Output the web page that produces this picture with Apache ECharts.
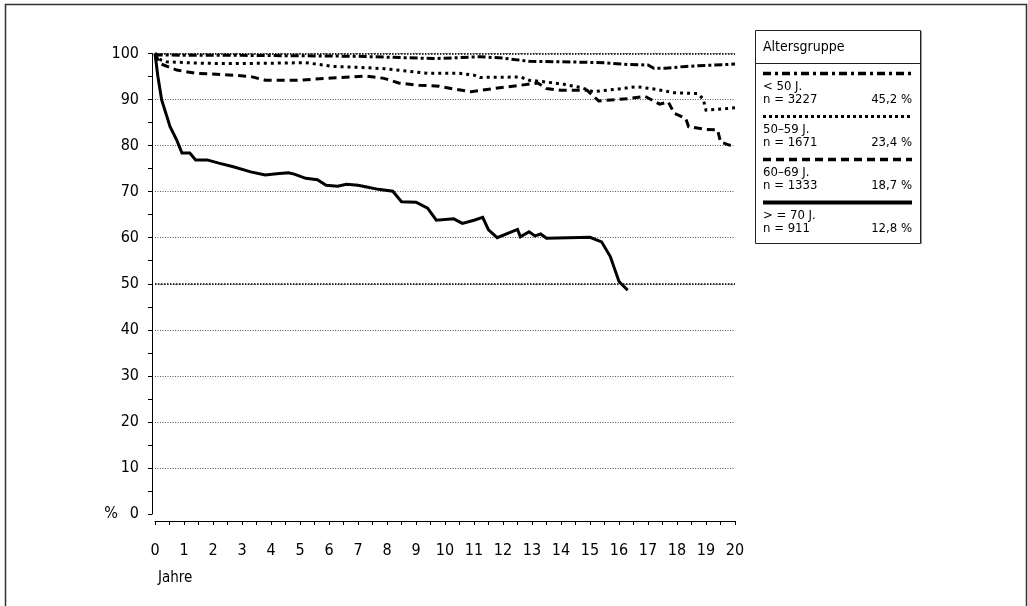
<!DOCTYPE html>
<html>
<head>
<meta charset="utf-8">
<script src="https://cdn.jsdelivr.net/npm/echarts@6/dist/echarts.min.js"></script>
<style>
html,body{margin:0;padding:0;background:#fff;}
#chart{width:1028px;height:606px;}
</style>
</head>
<body>
<div id="chart"></div>
<script>
// ---- data ----
const groupNames = ['< 50 J.', '50–59 J.', '60–69 J.', '> = 70 J.'];
const groupCounts = ['n = 3227', 'n = 1671', 'n = 1333', 'n = 911'];
const groupShares = ['45,2 %', '23,4 %', '18,7 %', '12,8 %'];
const legendTitle = 'Altersgruppe';
const xAxisTitle = 'Jahre';
const yAxisUnit = '%';

const under50 = [[0,100],[0.1,99.7],[1,99.6],[3,99.6],[5,99.5],[7,99.4],[8,99.2],[9.6,98.9],[10.5,99.1],[11.2,99.3],[12,99.0],[12.9,98.3],[14,98.2],[15.5,98.0],[16.3,97.6],[17.0,97.5],[17.2,96.8],[17.6,96.8],[18.3,97.2],[19,97.4],[20,97.7]];
const age50to59 = [[0,100],[0.2,98.6],[0.4,98.2],[1.5,97.9],[2.7,97.8],[4,97.9],[5.2,98.0],[5.8,97.5],[6.1,97.2],[7,97.0],[7.9,96.7],[8.5,96.3],[9.4,95.7],[10.5,95.7],[11.0,95.3],[11.2,94.8],[12.6,94.9],[12.9,94.2],[13.5,93.8],[14.1,93.3],[14.7,92.6],[15.1,91.7],[16.0,92.3],[16.6,92.8],[17.3,92.2],[17.9,91.5],[18.7,91.3],[18.9,90.2],[19.0,87.7],[20,88.2]];
const age60to69 = [[0,100],[0.17,97.8],[0.75,96.4],[1.4,95.7],[2.7,95.3],[3.3,95.0],[3.8,94.2],[5.0,94.2],[6.1,94.7],[7.3,95.1],[7.9,94.6],[8.2,94.0],[8.4,93.6],[9.1,93.1],[9.8,92.9],[10.3,92.3],[10.9,91.7],[11.7,92.4],[12.6,93.1],[13.2,93.6],[13.5,92.4],[14.0,92.0],[14.9,92.0],[15.3,89.7],[16.3,90.2],[16.9,90.7],[17.4,89.0],[17.7,89.5],[17.9,87.0],[18.3,85.9],[18.4,84.1],[19.0,83.5],[19.4,83.4],[19.5,80.8],[19.8,80.1],[20,80.0]];
const age70plus = [[0,100],[0.1,95],[0.23,89.9],[0.52,84.1],[0.75,81.2],[0.93,78.4],[1.2,78.4],[1.4,76.9],[1.8,76.9],[2.2,76.2],[2.7,75.4],[3.3,74.3],[3.8,73.6],[4.2,73.9],[4.6,74.1],[4.8,73.8],[5.2,72.9],[5.6,72.6],[5.9,71.4],[6.3,71.2],[6.6,71.6],[7.0,71.4],[7.3,71.0],[7.7,70.5],[8.2,70.1],[8.5,67.8],[9.0,67.7],[9.4,66.4],[9.7,63.8],[10.3,64.1],[10.6,63.1],[11.0,63.8],[11.3,64.4],[11.5,61.7],[11.8,60.0],[12.5,61.8],[12.6,60.2],[12.9,61.3],[13.1,60.4],[13.3,60.8],[13.5,59.9],[15.0,60.1],[15.4,59.1],[15.7,55.9],[16.0,50.5],[16.3,48.6]];

const seriesData = [under50, age50to59, age60to69, age70plus];
const emphasisLines = [50, 100];

// ---- styles ----
const FONT = "'Liberation Sans Narrow', 'DejaVu Sans Condensed', 'Arial Narrow', sans-serif";
const dashes = [[8,3,3,3], [3,4], [8,5], null];
const widths = [3, 3, 3, 3];
const legendDashes = [[8,4,3,4], [3,3], [8,5], null];
const legendWidths = [3.5, 3, 3.5, 4];

const chart = echarts.init(document.getElementById('chart'), null, {renderer: 'canvas'});

const series = seriesData.map((d, i) => ({
  type: 'line',
  name: groupNames[i],
  data: d,
  showSymbol: false,
  symbol: 'none',
  z: 3 + i,
  lineStyle: {color: '#000', width: widths[i], type: dashes[i] || 'solid', cap: 'butt', join: 'miter'},
  animation: false
}));
series[0].markLine = {
  silent: true, symbol: 'none', animation: false,
  label: {show: false},
  lineStyle: {color: '#000', type: [1.5, 1.5], width: 1.5},
  data: emphasisLines.map(v => ({yAxis: v}))
};

// legend box built as graphics
const LX = 755, LY = 30, LW = 165, LH = 213;
const graphics = [
  {type: 'rect', shape: {x: 5.5, y: 4.5, width: 1021, height: 700}, style: {fill: 'none', stroke: '#333', lineWidth: 1.5}, silent: true},
  {type: 'rect', shape: {x: LX + 0.5, y: LY + 0.5, width: LW, height: LH}, style: {fill: '#fff', stroke: '#222', lineWidth: 1}, z: 10},
  {type: 'line', shape: {x1: LX + LW + 1.5, y1: LY + 1, x2: LX + LW + 1.5, y2: LY + LH + 1}, style: {stroke: '#999', lineWidth: 1}, z: 10},
  {type: 'line', shape: {x1: LX, y1: LY + 33.5, x2: LX + LW, y2: LY + 33.5}, style: {stroke: '#222', lineWidth: 1}, z: 11},
  {type: 'text', x: LX + 8, y: LY + 17, z: 11, style: {text: legendTitle, fontSize: 14, fontFamily: FONT, fill: '#000', verticalAlign: 'middle', textVerticalAlign: 'middle'}}
];
groupNames.forEach((name, i) => {
  const y0 = LY + 43.5 + i * 43;
  graphics.push({type: 'line', z: 11, shape: {x1: LX + 8, y1: y0, x2: LX + 157, y2: y0},
    style: {stroke: '#000', lineWidth: legendWidths[i], lineDash: legendDashes[i]}});
  graphics.push({type: 'text', z: 11, x: LX + 8, y: y0 + 13, style: {text: name, fontSize: 13, fontFamily: FONT, fill: '#000', verticalAlign: 'middle', textVerticalAlign: 'middle'}});
  graphics.push({type: 'text', z: 11, x: LX + 8, y: y0 + 26, style: {text: groupCounts[i], fontSize: 13, fontFamily: FONT, fill: '#000', verticalAlign: 'middle', textVerticalAlign: 'middle'}});
  graphics.push({type: 'text', z: 11, x: LX + 157, y: y0 + 26, style: {text: groupShares[i], fontSize: 13, fontFamily: FONT, fill: '#000', align: 'right', textAlign: 'right', verticalAlign: 'middle', textVerticalAlign: 'middle'}});
});

chart.setOption({
  animation: false,
  backgroundColor: '#fff',
  title: {text: xAxisTitle, left: 153, top: 566, textStyle: {fontSize: 15, fontWeight: 'normal', fontFamily: FONT, color: '#000'}},
  grid: {left: 155, right: 293, top: 53.5, bottom: 92, containLabel: false},
  xAxis: {
    type: 'value', min: 0, max: 20, interval: 1, offset: 7,
    axisLine: {show: true, onZero: false, lineStyle: {color: '#000', width: 1}},
    axisTick: {show: true, length: 4, lineStyle: {color: '#000'}},
    minorTick: {show: true, splitNumber: 2, length: 4, lineStyle: {color: '#000'}},
    splitLine: {show: false},
    axisLabel: {fontSize: 16, fontFamily: FONT, color: '#000', margin: 22}
  },
  yAxis: {
    type: 'value', min: 0, max: 100, interval: 10, offset: 3,
    axisLine: {show: true, onZero: false, lineStyle: {color: '#000', width: 1}},
    axisTick: {show: true, length: 4, lineStyle: {color: '#000'}},
    minorTick: {show: true, splitNumber: 2, length: 4, lineStyle: {color: '#000'}},
    splitLine: {show: true, showMinLine: false, lineStyle: {color: '#555', type: [1, 1.5], width: 1}},
    axisLabel: {
      fontSize: 16, fontFamily: FONT, color: '#000', margin: 13,
      formatter: v => v === 0 ? '{u|' + yAxisUnit + '}{v|0}' : String(v),
      rich: {u: {fontSize: 16, fontFamily: FONT, color: '#000', padding: [0, 12, 0, 0]}, v: {fontSize: 16, fontFamily: FONT, color: '#000'}}
    }
  },
  graphic: graphics,
  series: series
});
</script>
</body>
</html>
